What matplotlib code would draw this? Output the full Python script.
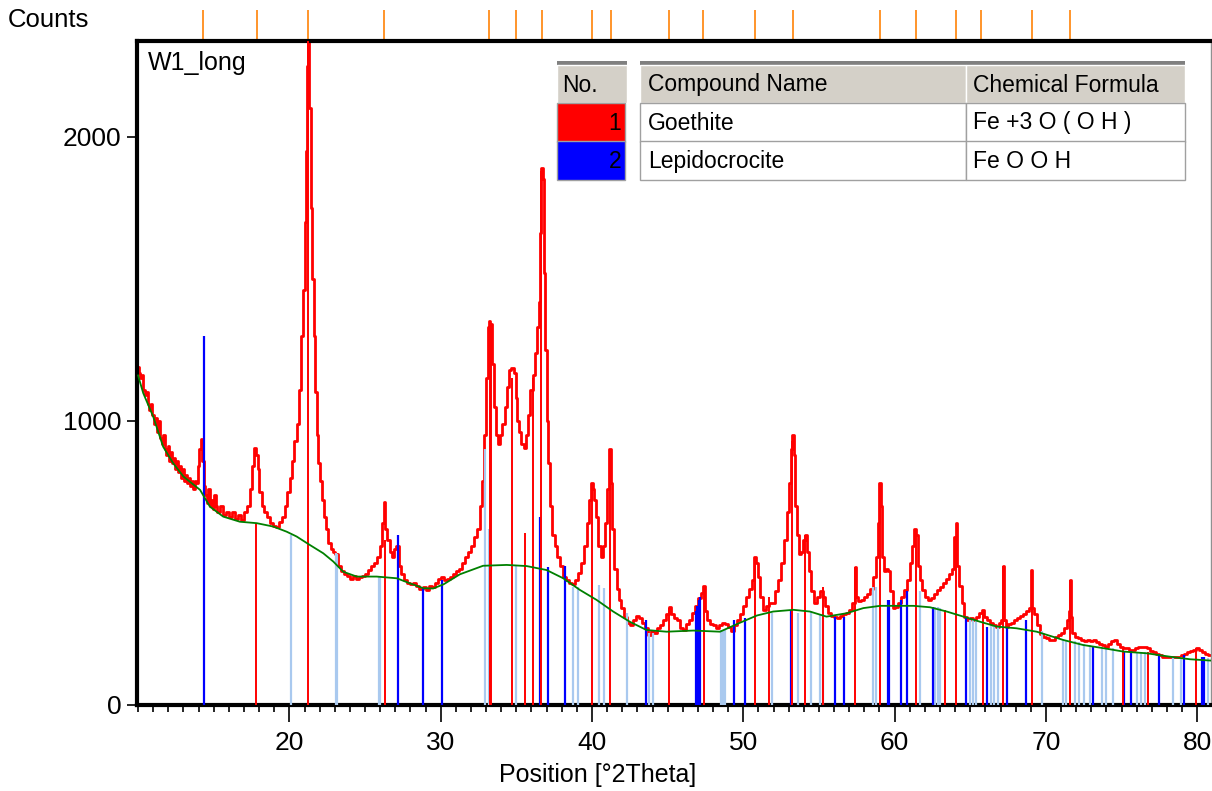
import matplotlib
matplotlib.use("Agg")
import matplotlib.pyplot as plt
from matplotlib.patches import Rectangle
from matplotlib.ticker import MultipleLocator, FixedLocator
from matplotlib.transforms import blended_transform_factory

plt.rcParams['font.family'] = ['Liberation Sans', 'DejaVu Sans']

two_theta = [
    10.0, 10.1, 10.2, 10.3, 10.4, 10.5, 10.6, 10.7, 10.8, 10.9, 11.0, 11.1, 11.2, 11.3, 11.4, 11.5,
    11.6, 11.7, 11.8, 11.9, 12.0, 12.1, 12.2, 12.3, 12.4, 12.5, 12.6, 12.7, 12.8, 12.9, 13.0, 13.1,
    13.2, 13.3, 13.4, 13.5, 13.6, 13.7, 13.8, 13.9, 14.0, 14.1, 14.2, 14.3, 14.4, 14.5, 14.6, 14.7,
    14.8, 14.9, 15.0, 15.1, 15.2, 15.3, 15.5, 15.7, 15.9, 16.1, 16.3, 16.5, 16.7, 16.9, 17.1, 17.3,
    17.45, 17.6, 17.75, 17.85, 17.95, 18.1, 18.25, 18.4, 18.6, 18.8, 19.0, 19.2, 19.4, 19.6, 19.8,
    19.95, 20.1, 20.25, 20.4, 20.55, 20.7, 20.85, 20.95, 21.05, 21.12, 21.2, 21.28, 21.36, 21.45,
    21.55, 21.65, 21.75, 21.85, 21.95, 22.05, 22.2, 22.35, 22.5, 22.65, 22.8, 22.95, 23.1, 23.3,
    23.5, 23.7, 23.9, 24.1, 24.3, 24.5, 24.7, 24.9, 25.1, 25.3, 25.5, 25.7, 25.9, 26.05, 26.2, 26.3,
    26.4, 26.55, 26.7, 26.85, 27.0, 27.15, 27.3, 27.5, 27.7, 27.9, 28.1, 28.3, 28.5, 28.7, 28.9,
    29.1, 29.3, 29.5, 29.7, 29.9, 30.1, 30.3, 30.5, 30.7, 30.9, 31.1, 31.3, 31.5, 31.7, 31.9, 32.1,
    32.3, 32.5, 32.65, 32.8, 32.95, 33.05, 33.15, 33.22, 33.3, 33.38, 33.45, 33.55, 33.7, 33.85,
    34.0, 34.15, 34.3, 34.45, 34.6, 34.75, 34.9, 35.0, 35.1, 35.25, 35.4, 35.55, 35.7, 35.85, 36.0,
    36.15, 36.3, 36.45, 36.55, 36.62, 36.7, 36.78, 36.85, 36.95, 37.05, 37.15, 37.3, 37.45, 37.6,
    37.8, 38.0, 38.2, 38.4, 38.6, 38.8, 39.0, 39.2, 39.4, 39.6, 39.75, 39.9, 40.0, 40.1, 40.2, 40.35,
    40.5, 40.65, 40.8, 40.95, 41.1, 41.2, 41.3, 41.4, 41.55, 41.7, 41.85, 42.0, 42.2, 42.4, 42.6,
    42.8, 43.0, 43.2, 43.4, 43.6, 43.8, 44.0, 44.2, 44.4, 44.6, 44.8, 45.0, 45.15, 45.3, 45.5, 45.7,
    45.9, 46.1, 46.3, 46.5, 46.7, 46.9, 47.1, 47.3, 47.4, 47.5, 47.7, 47.9, 48.1, 48.3, 48.5, 48.7,
    48.9, 49.1, 49.3, 49.5, 49.7, 49.9, 50.1, 50.3, 50.5, 50.65, 50.8, 50.9, 51.0, 51.2, 51.4, 51.6,
    51.8, 52.0, 52.2, 52.4, 52.6, 52.8, 52.95, 53.1, 53.2, 53.28, 53.38, 53.5, 53.6, 53.75, 53.9,
    54.05, 54.15, 54.25, 54.4, 54.6, 54.8, 55.0, 55.2, 55.35, 55.5, 55.7, 55.9, 56.1, 56.3, 56.5,
    56.7, 56.9, 57.1, 57.3, 57.4, 57.5, 57.7, 57.9, 58.1, 58.3, 58.5, 58.7, 58.85, 58.95, 59.05,
    59.12, 59.2, 59.35, 59.5, 59.65, 59.8, 59.95, 60.1, 60.3, 60.5, 60.7, 60.9, 61.1, 61.25, 61.35,
    61.45, 61.6, 61.75, 61.9, 62.1, 62.3, 62.5, 62.7, 62.9, 63.1, 63.3, 63.5, 63.7, 63.85, 64.0,
    64.1, 64.2, 64.35, 64.5, 64.7, 64.9, 65.1, 65.3, 65.5, 65.7, 65.85, 66.0, 66.2, 66.4, 66.6, 66.8,
    67.0, 67.1, 67.18, 67.26, 67.4, 67.6, 67.8, 68.0, 68.2, 68.4, 68.6, 68.8, 68.95, 69.05, 69.15,
    69.3, 69.5, 69.7, 69.9, 70.1, 70.3, 70.5, 70.7, 70.9, 71.1, 71.3, 71.45, 71.55, 71.6, 71.68,
    71.8, 72.0, 72.2, 72.4, 72.6, 72.8, 73.0, 73.2, 73.4, 73.6, 73.8, 74.0, 74.2, 74.4, 74.6, 74.8,
    75.0, 75.2, 75.4, 75.6, 75.8, 76.0, 76.2, 76.4, 76.6, 76.8, 77.0, 77.2, 77.4, 77.6, 77.8, 78.0,
    78.2, 78.4, 78.6, 78.8, 79.0, 79.2, 79.4, 79.6, 79.8, 80.0, 80.2, 80.4, 80.6, 80.8, 81.0,
]
counts = [
    1190, 1170, 1150, 1160, 1110, 1090, 1100, 1060, 1040, 1060, 1020, 990, 1010, 960, 1000, 940,
    920, 950, 900, 880, 910, 860, 890, 850, 870, 830, 860, 820, 840, 800, 830, 790,
    810, 780, 800, 770, 790, 760, 790, 780, 840, 900, 935, 860, 770, 740, 710, 760,
    700, 720, 690, 740, 700, 680, 700, 670, 680, 660, 680, 655, 670, 650, 680, 700,
    760, 840, 905, 880, 830, 750, 700, 680, 660, 640, 630, 625, 645, 660, 700,
    750, 800, 860, 930, 990, 1110, 1300, 1460, 1700, 1950, 2250, 2340, 2100, 1750,
    1500, 1300, 1100, 950, 850, 790, 720, 660, 620, 570, 550, 540, 530, 490,
    470, 460, 455, 445, 455, 445, 450, 455, 460, 475, 490, 500, 520, 560, 640, 715,
    620, 580, 540, 520, 550, 560, 490, 460, 440, 430, 425, 430, 420, 410, 415,
    405, 420, 415, 430, 445, 450, 440, 445, 450, 460, 470, 480, 500, 520, 540, 560,
    590, 620, 700, 790, 950, 1150, 1330, 1350, 1250, 1340, 1200, 1050, 950, 920,
    950, 990, 1050, 1120, 1180, 1185, 1170, 1080, 1000, 960, 920, 905, 950, 1020, 1110,
    1160, 1240, 1330, 1420, 1660, 1890, 1850, 1520, 1250, 1000, 850, 700, 600, 560,
    520, 490, 450, 440, 430, 425, 440, 465, 500, 560, 640, 720, 780, 760, 720, 660,
    560, 520, 560, 640, 760, 900, 780, 620, 480, 410, 370, 340, 310, 290, 280,
    300, 315, 305, 290, 270, 245, 260, 255, 270, 280, 300, 320, 345, 320, 305, 300,
    270, 265, 285, 300, 325, 350, 375, 395, 420, 330, 300, 285, 280, 270, 280, 290,
    285, 275, 260, 280, 300, 320, 350, 380, 410, 440, 520, 500, 450, 380, 335, 350,
    360, 360, 400, 440, 500, 580, 680, 780, 900, 950, 880, 700, 600, 530, 540,
    580, 600, 540, 470, 400, 360, 380, 400, 380, 350, 325, 315, 310, 305, 315,
    320, 325, 335, 360, 485, 380, 365, 370, 380, 390, 410, 450, 520, 640, 780,
    700, 520, 470, 480, 470, 400, 340, 345, 360, 380, 405, 440, 500, 560, 620,
    600, 490, 440, 405, 380, 370, 375, 390, 405, 415, 430, 445, 460, 480, 590,
    640, 490, 420, 360, 310, 300, 305, 300, 310, 325, 335, 310, 300, 290, 280, 275,
    290, 300, 490, 300, 275, 285, 290, 300, 305, 315, 320, 330, 340, 475, 340,
    320, 280, 250, 240, 235, 230, 230, 240, 245, 255, 270, 300, 330, 440, 310,
    255, 240, 235, 230, 225, 230, 225, 230, 220, 215, 210, 205, 215, 225, 230, 215,
    205, 200, 200, 195, 195, 200, 205, 205, 205, 200, 190, 185, 180, 175, 170, 170,
    170, 170, 168, 170, 175, 180, 185, 190, 195, 200, 195, 185, 180, 175, 175,
]

# fitted background
bg_theta = [10.0, 10.34, 11.0, 11.66, 12.32, 13.0, 14.1, 14.75, 15.63, 16.73, 17.84, 18.94, 19.82,
            20.48, 21.36, 22.24, 22.9, 23.56, 24.45, 25.77, 27.1, 27.98, 28.85, 29.5, 30.2, 31.27,
            32.8, 34.36, 35.68, 37.0, 38.1, 39.2, 40.3, 41.4, 42.5, 43.6, 44.93, 46.7, 48.46, 49.8,
            50.9, 51.98, 53.31, 54.4, 55.5, 56.83, 57.93, 59.04, 60.14, 61.24, 62.34, 63.44, 64.55,
            65.65, 66.75, 68.06, 69.39, 71.14, 72.47, 73.8, 75.12, 76.66, 78.2, 79.52, 81.0]
bg_counts = [1160, 1098, 1015, 909, 851, 804, 757, 698, 663, 645, 640, 628, 610,
             593, 563, 534, 505, 469, 452, 452, 446, 428, 411, 410, 425, 460,
             490, 493, 489, 475, 446, 405, 370, 329, 293, 264, 258, 262, 258, 290,
             315, 329, 335, 329, 311, 323, 341, 349, 349, 349, 344, 329, 311,
             293, 276, 270, 258, 229, 211, 200, 188, 182, 170, 161, 156]

# reference lines: goethite (red)
goethite_pos = [17.78, 21.25, 26.30, 33.25, 33.35, 34.72, 35.58, 36.12, 36.65, 39.98, 41.20, 45.10,
                47.38, 50.75, 51.70, 53.25, 54.08, 55.28, 57.40, 59.02, 61.40, 63.35, 64.05, 65.82,
                67.18, 69.05, 71.60, 75.10, 76.75, 79.95]
goethite_int = [640, 2340, 580, 1300, 1250, 1150, 605, 1150, 1880, 760, 880, 340,
                420, 520, 380, 930, 600, 415, 485, 780, 620, 335, 590, 335,
                490, 475, 440, 200, 185, 200]

# lepidocrocite (blue)
lepido_pos = [14.37, 27.15, 28.80, 30.07, 36.55, 37.07, 38.22, 43.60, 46.85, 46.95, 47.05, 47.15,
              49.38, 50.10, 53.12, 56.05, 56.65, 59.58, 59.65, 60.40, 60.80, 62.55, 64.70, 66.08,
              67.45, 68.70, 73.10, 75.15, 75.65, 77.50, 79.10, 80.30, 80.45]
lepido_int = [1300, 600, 410, 440, 660, 485, 490, 300, 330, 350, 370, 380,
              300, 305, 335, 310, 310, 370, 370, 370, 400, 345, 305, 275,
              270, 300, 205, 190, 190, 180, 175, 170, 170]

# unmatched lines (light blue)
other_pos = [20.13, 23.05, 23.15, 25.90, 26.00, 32.93, 33.19, 34.98, 38.72, 39.05, 40.46, 40.81,
             42.33, 43.80, 44.05, 48.50, 48.64, 48.79, 51.87, 53.62, 54.50, 55.07, 55.25, 58.60,
             58.75, 61.68, 62.70, 62.85, 63.00, 65.00, 65.20, 65.40, 66.40, 66.60, 66.85, 69.72,
             71.10, 71.35, 71.90, 72.20, 72.50, 72.90, 73.70, 74.00, 74.45, 76.00, 76.30, 76.55,
             78.40, 78.90, 80.70]
other_int = [600, 535, 530, 450, 450, 900, 620, 493, 417, 417, 422, 412,
             324, 254, 254, 264, 264, 264, 324, 324, 330, 320, 320, 417,
             417, 400, 345, 345, 340, 300, 300, 295, 280, 280, 275, 260,
             230, 230, 225, 220, 215, 210, 200, 200, 200, 185, 185, 185,
             170, 170, 165]

# peak markers above the plot
peak_marks = [14.26, 17.88, 21.26, 26.27, 33.20, 34.95, 36.68, 39.99, 41.25, 45.12, 47.36, 50.77,
              53.27, 59.05, 61.43, 64.06, 65.71, 69.08, 71.61]

x_ticks = [20, 30, 40, 50, 60, 70, 80]
y_ticks = [0, 1000, 2000]

table_header = ["No.", "Compound Name", "Chemical Formula"]
table_rows = [["1", "Goethite", "Fe +3 O ( O H )"],
              ["2", "Lepidocrocite", "Fe O O H"]]
row_colors = ["#ff0000", "#0000ff"]

W, H = 1212, 791
fig = plt.figure(figsize=(W / 100, H / 100), dpi=100)
ax = fig.add_axes([137 / W, (H - 705) / H, (1211 - 137) / W, (705 - 41) / H])


def fx(x):
    return x / W


def fy(y):
    return 1 - y / H


ax.plot(two_theta, counts, color="#ff0000", lw=2.0, drawstyle="steps-mid", zorder=2)
ax.vlines(other_pos, 0, other_int, colors="#a9c9ef", lw=1.6, zorder=3)
ax.vlines(lepido_pos, 0, lepido_int, colors="#0000ff", lw=1.6, zorder=3)
ax.vlines(goethite_pos, 0, goethite_int, colors="#ff0000", lw=1.4, zorder=3)
ax.plot(bg_theta, bg_counts, color="#008000", lw=1.3, zorder=4)

trans = blended_transform_factory(ax.transData, ax.transAxes)
ax.vlines(peak_marks, 1.0, 1.047, colors="#ff8c1a", lw=1.3, transform=trans, clip_on=False)

ax.set_xlim(9.93, 80.91)
ax.set_ylim(0, 2337)

for side in ["left", "bottom", "top"]:
    ax.spines[side].set_linewidth(3)
    ax.spines[side].set_color("black")
ax.spines["right"].set_linewidth(1)
ax.spines["right"].set_color("#909090")

ax.xaxis.set_major_locator(FixedLocator(x_ticks))
ax.xaxis.set_minor_locator(MultipleLocator(1))
ax.yaxis.set_major_locator(FixedLocator(y_ticks))
ax.tick_params(axis="x", which="major", length=12, width=1.2, pad=7, labelsize=19)
ax.tick_params(axis="x", which="minor", length=5, width=1.2)
ax.tick_params(axis="y", which="major", length=7, width=1.2, pad=4, labelsize=19)

ax.text(0.01, 0.985, "W1_long", transform=ax.transAxes, fontsize=18, va="top", ha="left")
fig.text(fx(8), fy(20), "Counts", fontsize=18.5, va="center", ha="left")
fig.text(fx(598), fy(775), "Position [°2Theta]", fontsize=18, va="center", ha="center")


def cell(x0, y0, x1, y1, color, edge="none", lw=1.0):
    fig.add_artist(Rectangle((fx(x0), fy(y1)), fx(x1) - fx(x0), fy(y0) - fy(y1),
                             transform=fig.transFigure, facecolor=color, edgecolor=edge,
                             lw=lw, zorder=10))


# legend table
cell(557, 61, 627, 65, "#808080")
cell(640, 61, 1185, 65, "#808080")
cell(557, 65, 627, 103, "#d4d0c8", edge="#ffffff")
cell(640, 65, 966, 103, "#d4d0c8", edge="#ffffff")
cell(966, 65, 1185, 103, "#d4d0c8", edge="#ffffff")
cell(627, 65, 640, 180, "#ffffff")
for i, (row, col) in enumerate(zip(table_rows, row_colors)):
    top = 103 + i * 38.5
    cell(557, top, 625, top + 38.5, col, edge="#a0a0a0")
    cell(640, top, 966, top + 38.5, "#ffffff", edge="#a0a0a0")
    cell(966, top, 1185, top + 38.5, "#ffffff", edge="#a0a0a0")
    fig.text(fx(621), fy(top + 20), row[0], fontsize=16.5, ha="right", va="center", zorder=11)
    fig.text(fx(648), fy(top + 20), row[1], fontsize=16.5, ha="left", va="center", zorder=11)
    fig.text(fx(973), fy(top + 20), row[2], fontsize=16.5, ha="left", va="center", zorder=11)
fig.text(fx(562), fy(85), table_header[0], fontsize=16.5, ha="left", va="center", zorder=11)
fig.text(fx(648), fy(85), table_header[1], fontsize=16.5, ha="left", va="center", zorder=11)
fig.text(fx(973), fy(85), table_header[2], fontsize=16.5, ha="left", va="center", zorder=11)

fig.savefig("out.png", dpi=100)
